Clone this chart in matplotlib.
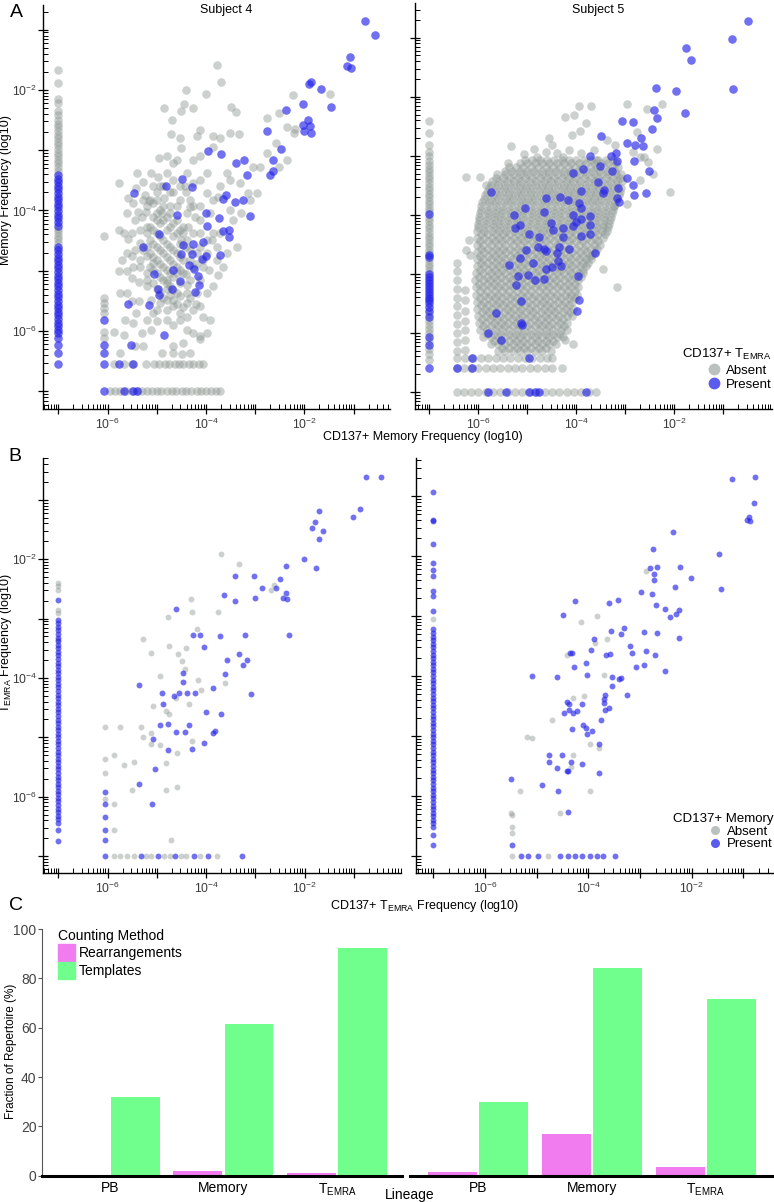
import numpy as np
import matplotlib
matplotlib.use('Agg')
import matplotlib.pyplot as plt
from matplotlib import font_manager
from matplotlib.lines import Line2D
from matplotlib.patches import Patch
from matplotlib.ticker import FixedLocator, FuncFormatter, LogLocator, NullFormatter

# fonts
names = set(f.name for f in font_manager.fontManager.ttflist)
font_main = 'Liberation Sans' if 'Liberation Sans' in names else 'DejaVu Sans'
font_narrow = 'Liberation Sans Narrow' if 'Liberation Sans Narrow' in names else font_main
plt.rcParams['font.family'] = font_main
plt.rcParams['mathtext.default'] = 'regular'

# ---------------------------------------------------------------
# data: all frequencies as log10 values, -7 = clone not detected
# ---------------------------------------------------------------
ZERO = -7.0

# panel A, subject 4 (x: CD137+ memory, y: memory), colour = seen in CD137+ TEMRA
a4_absent = [
    (-3.78, -1.59), (-3.70, -1.86), (-4.41, -2.00), (-4.01, -2.07), (-2.23, -2.08), (-1.49, -2.07),
    (-4.85, -2.30), (-4.44, -2.24), (-4.27, -2.30), (-4.50, -2.35), (-3.49, -2.28), (-3.39, -2.36),
    (-2.51, -2.39), (-2.76, -2.47), (-2.36, -2.61), (-2.19, -2.64), (-2.21, -2.72), (-4.70, -2.50),
    (-4.72, -2.73), (-4.12, -2.66), (-4.53, -2.80), (-4.19, -2.77), (-3.85, -2.77), (-3.72, -2.80),
    (-3.51, -2.71), (-3.34, -2.73), (-3.85, -2.94), (-4.12, -3.10), (-4.50, -2.97), (-4.95, -3.13),
    (-4.79, -3.10), (-4.67, -3.22), (-5.11, -3.38), (-4.97, -3.44), (-5.40, -3.38), (-5.28, -3.52),
    (-5.07, -3.60), (-5.78, -3.55), (-5.59, -3.80), (-5.42, -3.63), (-5.24, -3.74), (-5.17, -3.85),
    (-4.86, -3.80), (-4.67, -3.69), (-4.43, -3.60), (-4.33, -3.82), (-3.99, -3.71), (-3.75, -3.77),
    (-3.51, -3.49), (-3.31, -3.55), (-3.04, -3.27), (-2.90, -3.27), (-3.14, -3.71), (-2.97, -3.71),
    (-2.77, -3.05), (-2.57, -2.88), (-2.36, -3.16), (-2.51, -3.27), (-3.51, -3.99), (-3.45, -4.15),
    (-3.29, -4.04), (-3.11, -3.82), (-5.38, -4.02), (-5.23, -4.02), (-5.61, -4.04), (-5.78, -4.32),
    (-5.67, -4.38), (-6.07, -4.43), (-5.59, -4.48), (-5.44, -4.15), (-5.34, -4.32), (-5.21, -4.27),
    (-4.90, -4.04), (-5.00, -4.15), (-4.73, -3.93), (-4.53, -3.82), (-4.39, -4.04), (-4.26, -3.93),
    (-4.12, -4.15), (-3.92, -4.04), (-3.85, -4.38), (-3.78, -4.60), (-3.89, -4.49), (-4.12, -4.38),
    (-3.38, -4.60), (-5.34, -4.54), (-5.51, -4.76), (-5.21, -4.76), (-5.07, -4.87), (-5.34, -4.93),
    (-5.61, -5.01), (-5.78, -5.01), (-5.51, -5.12), (-5.36, -5.18), (-5.21, -5.26), (-5.75, -5.37),
    (-5.61, -5.37), (-5.51, -5.51), (-5.36, -5.51), (-5.11, -5.48), (-5.00, -5.65), (-4.80, -5.65),
    (-4.67, -5.48), (-4.53, -5.42), (-4.39, -5.54), (-4.26, -5.65), (-4.12, -5.59), (-3.99, -5.37),
    (-3.85, -5.26), (-3.75, -5.07), (-3.95, -4.98), (-4.39, -5.23), (-4.80, -5.15), (-5.42, -5.70),
    (-5.64, -5.81), (-5.48, -5.87), (-5.21, -5.81), (-5.00, -5.84), (-4.80, -5.81), (-4.67, -5.90),
    (-4.53, -5.81), (-4.39, -5.98), (-4.26, -6.03), (-4.12, -6.09), (-3.99, -6.03), (-5.11, -5.98),
    (-5.31, -6.03), (-5.88, -6.01), (-5.67, -6.06), (-5.44, -6.25), (-5.28, -6.25), (-4.67, -6.25),
    (-4.46, -6.20), (-4.33, -6.36), (-4.12, -6.14), (-5.75, -6.36), (-4.89, -6.36), (-4.67, -6.36),
    (-4.48, -6.38),
    (-5.14, -3.82), (-5.00, -3.82), (-4.87, -3.93), (-4.73, -4.04), (-4.60, -4.15), (-4.46, -4.27),
    (-5.00, -4.04), (-4.87, -4.15), (-4.73, -4.27), (-4.60, -4.38), (-5.14, -4.27), (-5.00, -4.38),
    (-4.87, -4.49), (-4.73, -4.60), (-4.60, -4.71), (-5.14, -4.49), (-5.00, -4.60), (-4.87, -4.71),
    (-4.73, -4.82), (-4.46, -4.82), (-4.33, -4.82), (-5.14, -4.71), (-5.00, -4.82), (-4.87, -4.93),
    (-4.73, -5.04), (-4.60, -5.04), (-4.46, -5.04), (-5.14, -4.93), (-5.00, -5.04), (-4.87, -5.15),
    (-4.73, -5.26), (-4.60, -5.37), (-5.21, -5.04), (-5.07, -5.20), (-4.94, -5.37), (-4.80, -5.48),
    (-4.67, -5.59), (-4.53, -5.70), (-4.39, -5.76), (-4.94, -5.54), (-5.07, -5.70), (-4.80, -5.31),
    (-4.12, -5.15), (-4.06, -4.93), (-4.19, -4.71), (-4.26, -4.38), (-4.39, -4.49), (-4.12, -4.60),
    (-3.99, -4.49), (-3.99, -4.71), (-4.50, -4.49), (-4.36, -4.27), (-4.22, -4.10), (-4.12, -3.93),
    (-4.53, -3.60), (-4.67, -3.49), (-4.80, -3.38), (-4.94, -3.60), (-5.21, -3.93), (-5.28, -3.82),
    (-5.31, -4.10), (-5.48, -3.88), (-5.51, -4.38), (-5.44, -4.65), (-5.48, -4.93), (-5.61, -4.71),
    (-5.71, -4.82), (-5.21, -4.60), (-4.60, -4.93), (-4.33, -5.15), (-4.19, -5.37), (-4.39, -5.37),
    (-4.06, -5.76), (-3.92, -5.81), (-3.78, -4.82), (-3.65, -4.93), (-3.58, -4.71), (-3.72, -4.38),
    (-3.85, -3.82), (-3.72, -3.60), (-3.58, -3.38), (-3.99, -3.38), (-4.12, -3.49), (-4.26, -3.55),
    (-4.39, -3.38), (-4.26, -3.16), (-4.60, -3.16),
    (-5.07, -3.88), (-4.94, -3.99), (-4.80, -4.10), (-4.67, -4.21), (-4.53, -4.32), (-5.07, -4.10),
    (-4.94, -4.21), (-4.80, -4.32), (-4.67, -4.43), (-4.53, -4.55), (-5.07, -4.32), (-4.94, -4.43),
    (-4.80, -4.55), (-4.67, -4.66), (-4.53, -4.77), (-5.07, -4.55), (-4.94, -4.66), (-4.80, -4.77),
    (-4.67, -4.88), (-4.53, -4.99), (-5.07, -4.77), (-4.94, -4.88), (-4.80, -4.99), (-4.67, -5.10),
    (-4.53, -5.21), (-5.07, -4.99), (-4.94, -5.10), (-4.80, -5.21), (-4.67, -5.32), (-4.40, -4.60),
    (-4.27, -4.93), (-4.40, -5.05), (-4.47, -4.38), (-4.33, -4.66), (-4.20, -4.88), (-4.07, -4.82),
    (-5.21, -4.38), (-5.28, -4.65), (-5.35, -4.82), (-5.21, -5.15), (-5.00, -5.30), (-4.87, -5.45),
    (-4.74, -5.40), (-4.60, -5.55), (-4.47, -5.60), (-4.33, -5.45), (-4.20, -5.55), (-4.60, -3.93),
    (-4.73, -3.70), (-4.87, -3.60), (-5.00, -3.70), (-4.40, -3.70), (-4.33, -3.95),
    (-6.07, -5.45), (-6.07, -5.54), (-6.07, -5.62), (-6.07, -5.70), (-6.07, -6.01), (-6.07, -6.12),
]
a4_absent_row65 = [-5.88, -5.67, -5.50, -5.22, -5.06, -4.95, -4.84, -4.76, -4.64, -4.55, -4.46, -4.34,
                   -4.26, -4.15, -4.06]
a4_absent_floor = [-5.95, -5.86, -5.74, -5.62, -5.51, -5.39, -5.30, -5.21, -5.10, -5.00, -4.91, -4.79,
                   -4.70, -4.61, -4.49, -4.40, -4.31, -4.19, -4.10, -4.00, -3.91, -3.80, -3.72]
a4_absent_zero = [-1.67, -1.88, -2.15, -2.22, -2.35, -2.42, -2.50, -2.56, -2.62, -2.68, -2.74, -2.80,
                  -2.86, -2.92, -2.98, -3.04, -3.10, -3.16, -3.22, -3.28, -3.34, -4.30, -4.36, -4.42,
                  -4.48, -4.54]
a4_present = [
    (-5.46, -3.71), (-4.48, -3.48), (-4.82, -3.60), (-4.28, -3.61), (-3.96, -3.01), (-3.70, -3.07),
    (-3.39, -3.22), (-3.22, -3.16), (-3.17, -3.41), (-2.77, -2.68), (-2.38, -2.34), (-2.04, -2.24),
    (-2.48, -2.98), (-2.63, -3.16), (-2.71, -3.41), (-2.65, -3.34), (-1.92, -2.49), (-2.04, -2.58),
    (-1.89, -2.60), (-2.01, -2.68), (-1.87, -2.72), (-1.87, -1.86), (-1.90, -1.90), (-1.66, -1.98),
    (-1.46, -2.28), (-1.07, -1.45), (-1.14, -1.60), (-1.05, -1.63), (-0.77, -0.86), (-0.57, -1.09),
    (-3.59, -3.75), (-3.66, -3.81), (-3.41, -3.86), (-3.26, -3.83), (-3.11, -4.09), (-3.74, -4.12),
    (-3.65, -4.34), (-3.53, -4.32), (-3.53, -4.44), (-3.99, -4.25), (-4.00, -4.04), (-4.60, -4.07),
    (-4.96, -4.39), (-5.29, -4.61), (-4.46, -4.58), (-4.27, -4.55), (-4.07, -4.52), (-4.51, -4.73),
    (-4.28, -4.72), (-4.08, -4.80), (-4.00, -4.76), (-3.72, -4.74), (-4.34, -4.91), (-4.24, -4.97),
    (-4.16, -5.08), (-4.68, -4.98), (-5.05, -5.06), (-4.53, -5.17), (-4.14, -5.24), (-4.97, -5.31),
    (-4.96, -5.40), (-4.69, -5.31), (-4.22, -5.36), (-5.16, -5.56), (-5.59, -5.55), (-4.85, -6.06),
    (-5.53, -6.24), (-6.07, -5.81), (-6.07, -6.23), (-6.07, -6.36), (-6.07, -6.54), (-5.78, -6.54),
    (-5.48, -6.54),
]
a4_present_floor = [-6.07, -5.67, -5.48, -5.41]
a4_present_zero = [-3.41, -3.47, -3.53, -3.59, -3.65, -3.71, -3.77, -3.83, -3.89, -3.95, -4.01, -4.07,
                   -4.13, -4.19, -4.25, -4.60, -4.66, -4.72, -4.78, -4.84, -4.90, -4.96, -5.02, -5.08,
                   -5.14, -5.20, -5.26, -5.32, -5.38, -5.44, -5.50, -5.56, -5.62, -5.68, -5.74, -5.80,
                   -5.86, -5.92, -5.98, -6.03, -6.12, -6.23, -6.36, -6.54]

# panel A, subject 5: dense cloud read row by row (memory level, CD137+ memory levels)
a5_absent_rows_y = [-3.07, -3.13, -3.19, -3.25, -3.31, -3.37, -3.43, -3.49, -3.55, -3.61, -3.67, -3.73,
                    -3.79, -3.85, -3.91, -3.97, -4.03, -4.09, -4.15, -4.21, -4.27, -4.33, -4.39, -4.45,
                    -4.51, -4.57, -4.63, -4.69, -4.75, -4.81, -4.87, -4.93, -4.99, -5.05, -5.11, -5.17,
                    -5.23, -5.29, -5.35, -5.41, -5.47, -5.53, -5.59, -5.65, -5.71, -5.77, -5.83, -5.89,
                    -5.95, -6.01, -6.07, -6.13, -6.19, -6.25, -6.30]
a5_absent_rows_x = [
    [-5.05, -4.90, -4.75, -4.60, -4.45, -4.30, -4.15, -4.00, -3.85, -3.70, -3.55, -3.40, -3.25],
    [-5.15, -5.00, -4.85, -4.70, -4.55, -4.40, -4.25, -4.10, -3.95, -3.80, -3.65, -3.50, -3.35, -3.20],
    [-5.38, -5.23, -5.08, -4.93, -4.78, -4.63, -4.48, -4.33, -4.18, -4.03, -3.88, -3.73, -3.58, -3.43, -3.28, -3.15],
    [-5.46, -5.31, -5.16, -5.01, -4.86, -4.71, -4.56, -4.41, -4.26, -4.11, -3.96, -3.81, -3.66, -3.51, -3.36, -3.21],
    [-5.62, -5.45, -5.30, -5.15, -5.00, -4.85, -4.70, -4.55, -4.40, -4.25, -4.10, -3.95, -3.80, -3.65, -3.50, -3.35, -3.20, -3.10],
    [-5.65, -5.50, -5.35, -5.20, -5.05, -4.90, -4.75, -4.60, -4.45, -4.30, -4.15, -4.00, -3.85, -3.70, -3.55, -3.40, -3.25, -3.12],
    [-5.72, -5.57, -5.42, -5.27, -5.12, -4.97, -4.82, -4.67, -4.52, -4.37, -4.22, -4.07, -3.92, -3.77, -3.62, -3.47, -3.32, -3.17, -3.06],
    [-5.75, -5.60, -5.45, -5.30, -5.15, -5.00, -4.85, -4.70, -4.55, -4.40, -4.25, -4.10, -3.95, -3.80, -3.65, -3.50, -3.35, -3.20],
    [-5.78, -5.63, -5.48, -5.33, -5.18, -5.03, -4.88, -4.73, -4.58, -4.43, -4.28, -4.13, -3.98, -3.83, -3.68, -3.53, -3.38, -3.23, -3.08],
    [-5.82, -5.67, -5.52, -5.37, -5.22, -5.07, -4.92, -4.77, -4.62, -4.47, -4.32, -4.17, -4.02, -3.87, -3.72, -3.57, -3.42, -3.27, -3.12],
    [-5.86, -5.70, -5.55, -5.40, -5.25, -5.10, -4.95, -4.80, -4.65, -4.50, -4.35, -4.20, -4.05, -3.90, -3.75, -3.60, -3.45, -3.30, -3.14],
    [-5.89, -5.74, -5.59, -5.44, -5.29, -5.14, -4.99, -4.84, -4.69, -4.54, -4.39, -4.24, -4.09, -3.94, -3.79, -3.64, -3.49, -3.34, -3.18],
    [-5.92, -5.78, -5.63, -5.48, -5.33, -5.18, -5.03, -4.88, -4.73, -4.58, -4.43, -4.28, -4.13, -3.98, -3.83, -3.68, -3.53, -3.38, -3.22],
    [-5.94, -5.79, -5.64, -5.49, -5.34, -5.19, -5.04, -4.89, -4.74, -4.59, -4.44, -4.29, -4.14, -3.99, -3.84, -3.69, -3.54, -3.39, -3.24],
    [-5.95, -5.80, -5.65, -5.50, -5.35, -5.20, -5.05, -4.90, -4.75, -4.60, -4.45, -4.30, -4.15, -4.00, -3.85, -3.70, -3.55, -3.40, -3.26],
    [-5.96, -5.81, -5.66, -5.51, -5.36, -5.21, -5.06, -4.91, -4.76, -4.61, -4.46, -4.31, -4.16, -4.01, -3.86, -3.71, -3.56, -3.41, -3.28],
    [-5.98, -5.83, -5.68, -5.53, -5.38, -5.23, -5.08, -4.93, -4.78, -4.63, -4.48, -4.33, -4.18, -4.03, -3.88, -3.73, -3.58, -3.43, -3.30],
    [-5.99, -5.84, -5.69, -5.54, -5.39, -5.24, -5.09, -4.94, -4.79, -4.64, -4.49, -4.34, -4.19, -4.04, -3.89, -3.74, -3.59, -3.44, -3.32],
    [-6.00, -5.85, -5.70, -5.55, -5.40, -5.25, -5.10, -4.95, -4.80, -4.65, -4.50, -4.35, -4.20, -4.05, -3.90, -3.75, -3.60, -3.45, -3.34],
    [-6.01, -5.86, -5.71, -5.56, -5.41, -5.26, -5.11, -4.96, -4.81, -4.66, -4.51, -4.36, -4.21, -4.06, -3.91, -3.76, -3.61, -3.46, -3.36],
    [-6.02, -5.88, -5.73, -5.58, -5.43, -5.28, -5.13, -4.98, -4.83, -4.68, -4.53, -4.38, -4.23, -4.08, -3.93, -3.78, -3.63, -3.48, -3.38],
    [-5.95, -5.80, -5.65, -5.50, -5.35, -5.20, -5.05, -4.90, -4.75, -4.60, -4.45, -4.30, -4.15, -4.00, -3.85, -3.70, -3.55, -3.42],
    [-6.03, -5.88, -5.73, -5.58, -5.43, -5.28, -5.13, -4.98, -4.83, -4.68, -4.53, -4.38, -4.23, -4.08, -3.93, -3.78, -3.63, -3.45],
    [-5.96, -5.81, -5.66, -5.51, -5.36, -5.21, -5.06, -4.91, -4.76, -4.61, -4.46, -4.31, -4.16, -4.01, -3.86, -3.71, -3.56],
    [-6.03, -5.90, -5.75, -5.60, -5.45, -5.30, -5.15, -5.00, -4.85, -4.70, -4.55, -4.40, -4.25, -4.10, -3.95, -3.80, -3.65, -3.52],
    [-5.95, -5.80, -5.65, -5.50, -5.35, -5.20, -5.05, -4.90, -4.75, -4.60, -4.45, -4.30, -4.15, -4.00, -3.85, -3.70, -3.58],
    [-6.03, -5.88, -5.73, -5.58, -5.43, -5.28, -5.13, -4.98, -4.83, -4.68, -4.53, -4.38, -4.23, -4.08, -3.93, -3.78, -3.62],
    [-5.96, -5.81, -5.66, -5.51, -5.36, -5.21, -5.06, -4.91, -4.76, -4.61, -4.46, -4.31, -4.16, -4.01, -3.86, -3.72],
    [-6.03, -5.90, -5.75, -5.60, -5.45, -5.30, -5.15, -5.00, -4.85, -4.70, -4.55, -4.40, -4.25, -4.10, -3.95, -3.80, -3.70],
    [-5.95, -5.80, -5.65, -5.50, -5.35, -5.20, -5.05, -4.90, -4.75, -4.60, -4.45, -4.30, -4.15, -4.00, -3.86, -3.76],
    [-6.03, -5.88, -5.73, -5.58, -5.43, -5.28, -5.13, -4.98, -4.83, -4.68, -4.53, -4.38, -4.23, -4.08, -3.93, -3.80],
    [-5.96, -5.81, -5.66, -5.51, -5.36, -5.21, -5.06, -4.91, -4.76, -4.61, -4.46, -4.31, -4.16, -4.01, -3.86],
    [-6.05, -5.90, -5.75, -5.60, -5.45, -5.30, -5.15, -5.00, -4.85, -4.70, -4.55, -4.40, -4.25, -4.10, -3.95, -3.86],
    [-5.98, -5.83, -5.68, -5.53, -5.38, -5.23, -5.08, -4.93, -4.78, -4.63, -4.48, -4.33, -4.18, -4.03, -3.90],
    [-6.06, -5.91, -5.76, -5.61, -5.46, -5.31, -5.16, -5.01, -4.86, -4.71, -4.56, -4.41, -4.26, -4.11, -3.96],
    [-5.98, -5.83, -5.68, -5.53, -5.38, -5.23, -5.08, -4.93, -4.78, -4.63, -4.48, -4.33, -4.18, -4.03],
    [-6.05, -5.90, -5.75, -5.60, -5.45, -5.30, -5.15, -5.00, -4.85, -4.70, -4.55, -4.40, -4.25, -4.10, -3.97],
    [-5.97, -5.82, -5.67, -5.52, -5.37, -5.22, -5.07, -4.92, -4.77, -4.62, -4.47, -4.32, -4.17, -4.03],
    [-6.04, -5.89, -5.74, -5.59, -5.44, -5.29, -5.14, -4.99, -4.84, -4.69, -4.54, -4.39, -4.24, -4.10, -3.99],
    [-5.96, -5.81, -5.66, -5.51, -5.36, -5.21, -5.06, -4.91, -4.76, -4.61, -4.46, -4.31, -4.16, -4.03],
    [-6.03, -5.88, -5.73, -5.58, -5.43, -5.28, -5.13, -4.98, -4.83, -4.68, -4.53, -4.38, -4.23, -4.08],
    [-5.95, -5.80, -5.65, -5.50, -5.35, -5.20, -5.05, -4.90, -4.75, -4.60, -4.45, -4.30, -4.15],
    [-6.02, -5.87, -5.72, -5.57, -5.42, -5.27, -5.12, -4.97, -4.82, -4.67, -4.52, -4.37, -4.22, -4.07],
    [-5.93, -5.78, -5.63, -5.48, -5.33, -5.18, -5.03, -4.88, -4.73, -4.58, -4.43, -4.28, -4.14],
    [-6.00, -5.85, -5.70, -5.55, -5.40, -5.25, -5.10, -4.95, -4.80, -4.65, -4.50, -4.35, -4.20, -4.08],
    [-5.92, -5.77, -5.62, -5.47, -5.32, -5.17, -5.02, -4.87, -4.72, -4.57, -4.42, -4.27],
    [-5.99, -5.84, -5.69, -5.54, -5.39, -5.24, -5.09, -4.94, -4.79, -4.64, -4.49, -4.34, -4.20],
    [-5.90, -5.75, -5.60, -5.45, -5.30, -5.15, -5.00, -4.85, -4.70, -4.55, -4.40, -4.26],
    [-5.97, -5.82, -5.67, -5.52, -5.37, -5.22, -5.07, -4.92, -4.77, -4.62, -4.47, -4.32, -4.20],
    [-5.83, -5.68, -5.53, -5.38, -5.23, -5.08, -4.93, -4.78, -4.63, -4.48, -4.34],
    [-5.90, -5.75, -5.60, -5.45, -5.30, -5.15, -5.00, -4.85, -4.70, -4.55, -4.40, -4.27],
    [-5.68, -5.53, -5.38, -5.23, -5.08, -4.93, -4.78, -4.63, -4.48],
    [-5.75, -5.60, -5.45, -5.30, -5.15, -5.00, -4.85, -4.70, -4.55, -4.42],
    [-5.52, -5.37, -5.22, -5.07, -4.92, -4.77, -4.62],
    [-5.60, -5.45, -5.30, -5.15, -5.00, -4.85, -4.70, -4.52],
]
a5_absent = [
    (-6.25, -3.36), (-5.97, -3.36), (-5.84, -3.50), (-5.40, -3.13), (-5.34, -2.84), (-5.07, -2.97),
    (-4.86, -2.88), (-4.81, -3.02), (-4.49, -2.81), (-4.23, -2.34), (-4.08, -2.64), (-4.04, -2.31),
    (-3.93, -2.58), (-3.71, -2.16), (-3.94, -2.16), (-2.97, -2.13), (-2.55, -2.20), (-2.26, -2.12),
    (-2.35, -2.89), (-2.70, -3.02), (-2.09, -3.61), (-3.46, -4.91), (-3.18, -5.22), (-3.69, -4.68),
    (-4.06, -6.18), (-4.23, -6.12), (-3.38, -2.73), (-3.21, -2.82), (-2.77, -2.59), (-2.63, -3.02),
    (-3.59, -3.07), (-4.27, -3.02), (-4.61, -2.93), (-6.17, -4.68), (-6.20, -4.43), (-6.25, -4.60),
    (-3.24, -3.85), (-2.97, -3.81), (-2.70, -3.41), (-2.43, -3.30), (-2.53, -3.10), (-2.84, -2.93),
    (-4.40, -2.95), (-4.15, -2.90), (-3.90, -2.95), (-3.65, -2.90), (-4.55, -2.70), (-3.80, -2.45),
    (-6.44, -4.82), (-6.44, -4.95), (-6.44, -5.10), (-6.44, -5.25), (-6.44, -5.40), (-6.44, -5.55),
    (-6.44, -5.70), (-6.44, -5.85), (-6.44, -6.00), (-6.44, -6.15), (-6.44, -6.30),
    (-6.27, -5.28), (-6.27, -5.45), (-6.27, -5.62), (-6.27, -5.80), (-6.27, -5.95), (-6.27, -6.12),
    (-6.27, -6.29),
]
a5_absent_row66 = [-6.44, -6.30, -6.15, -6.00, -5.85, -5.70, -5.55, -5.40, -5.25, -5.10, -4.95, -4.80,
                   -4.65, -4.50, -4.30]
a5_absent_row64 = [-6.44, -6.27, -6.10, -5.95, -5.80, -5.65, -5.50, -5.35, -5.20, -5.05, -4.90, -4.75,
                   -4.60, -4.50]
a5_absent_floor = [-6.44, -6.30, -6.15, -6.00, -5.85, -5.70, -5.55, -5.40, -5.25, -5.10, -4.95, -4.80,
                   -4.65, -4.50, -4.35, -4.20, -4.05, -3.90, -3.75, -3.59]
a5_absent_zero = [-2.41, -2.62, -2.82, -2.93, -3.01, -3.08, -3.16, -3.22, -3.28, -3.34, -3.40, -3.46,
                  -3.52, -3.58, -3.64, -3.70, -3.76, -3.82, -3.88, -3.94, -4.05, -4.11, -4.17, -4.23,
                  -4.29, -4.35, -4.41, -4.47, -4.53, -4.59, -4.65, -4.77, -4.83, -4.89, -4.95, -5.68,
                  -5.80, -5.87, -5.94, -6.00, -6.14, -6.28, -6.36, -6.46]
a5_present = [
    (-0.50, -0.72), (-0.83, -1.02), (-0.80, -1.86), (-1.77, -1.18), (-1.66, -1.38), (-2.37, -1.85),
    (-1.97, -1.90), (-1.78, -2.27), (-2.41, -2.23), (-2.36, -2.36), (-3.06, -2.41), (-2.85, -2.42),
    (-2.46, -2.55), (-2.69, -2.69), (-3.50, -2.67), (-2.96, -2.79), (-2.80, -2.81), (-2.65, -2.83),
    (-3.73, -3.01), (-3.29, -3.01), (-3.19, -2.95), (-2.82, -3.09), (-3.18, -3.08), (-4.06, -3.29),
    (-3.86, -3.23), (-3.52, -3.18), (-3.28, -3.26), (-2.96, -3.37), (-2.51, -3.26), (-3.55, -3.44),
    (-3.16, -3.54), (-2.84, -3.49), (-3.46, -3.63), (-3.43, -3.58), (-3.18, -3.72), (-3.14, -3.78),
    (-2.82, -3.66), (-2.58, -3.63), (-5.74, -3.61), (-4.63, -3.71), (-4.33, -3.69), (-4.18, -3.74),
    (-3.90, -3.60), (-3.94, -3.80), (-4.07, -4.01), (-3.91, -3.89), (-3.73, -4.02), (-4.66, -3.95),
    (-5.05, -3.88), (-5.27, -4.01), (-5.25, -4.23), (-5.15, -4.18), (-4.96, -4.33), (-4.76, -4.38),
    (-4.52, -4.14), (-4.48, -4.25), (-4.27, -4.23), (-4.01, -4.12), (-4.06, -4.19), (-3.90, -4.07),
    (-3.72, -4.18), (-4.28, -4.38), (-4.35, -4.55), (-4.78, -4.54), (-4.67, -4.58), (-4.62, -4.61),
    (-5.03, -4.59), (-5.16, -4.73), (-4.39, -4.64), (-4.15, -4.57), (-3.91, -4.36), (-3.72, -4.32),
    (-3.63, -4.64), (-5.38, -4.85), (-4.88, -4.81), (-4.63, -4.92), (-4.49, -4.88), (-4.37, -4.78),
    (-4.31, -4.86), (-3.97, -5.04), (-5.20, -5.03), (-4.98, -5.02), (-4.84, -5.10), (-4.67, -5.09),
    (-5.24, -5.18), (-5.14, -5.46), (-3.95, -5.45), (-3.99, -5.62), (-5.63, -5.66), (-5.12, -5.83),
    (-5.10, -5.87), (-5.80, -6.00), (-5.54, -6.12), (-6.12, -6.42), (-4.96, -6.42), (-6.44, -6.60),
    (-6.13, -6.60),
]
a5_present_floor = [-5.81, -5.44, -4.96, -4.84, -4.76, -3.80]
a5_present_zero = [-3.99, -4.68, -4.71, -5.00, -5.05, -5.10, -5.15, -5.20, -5.25, -5.30, -5.35, -5.40,
                   -5.45, -5.50, -5.56, -5.62, -5.73, -6.07, -6.21, -6.60]

# panel B, subject 4 (x: CD137+ TEMRA, y: TEMRA), colour = seen in CD137+ memory
b4_absent = [
    (-3.70, -1.91), (-3.34, -2.08), (-4.31, -2.67), (-4.29, -2.89), (-3.76, -2.89), (-4.78, -2.98),
    (-4.19, -3.17), (-5.28, -3.34), (-5.11, -3.58), (-4.75, -3.46), (-4.41, -3.50), (-4.58, -3.60),
    (-4.50, -3.71), (-4.43, -3.85), (-4.94, -3.96), (-4.16, -4.03), (-3.62, -4.08), (-4.10, -4.21),
    (-4.35, -4.43), (-4.62, -4.33), (-4.75, -4.61), (-4.82, -4.56), (-5.07, -4.47), (-6.05, -4.83),
    (-5.76, -4.83), (-5.32, -4.82), (-5.13, -4.92), (-5.28, -5.00), (-5.11, -5.12), (-4.94, -5.13),
    (-4.60, -5.27), (-4.29, -5.06), (-4.82, -5.44), (-5.46, -5.41), (-5.66, -5.47), (-5.88, -5.29),
    (-6.05, -5.37), (-6.05, -5.60), (-6.05, -6.04), (-5.88, -6.13), (-5.51, -5.89), (-4.81, -5.89),
    (-4.60, -5.83), (-2.63, -2.44), (-2.69, -2.51), (-5.87, -6.56), (-4.71, -6.73),
]
b4_absent_floor = [-5.88, -5.74, -5.61, -5.47, -5.22, -5.12, -4.86, -4.74, -4.52, -4.41, -4.12, -3.78]
b4_absent_zero = [-2.40, -2.45, -2.52, -2.85, -2.91, -3.36]
b4_present = [
    (-0.76, -0.61), (-0.44, -0.61), (-0.88, -1.16), (-1.02, -1.29), (-1.70, -1.18), (-1.79, -1.37),
    (-1.85, -1.48), (-1.63, -1.53), (-1.70, -1.66), (-2.01, -1.99), (-1.77, -2.15), (-2.38, -2.11),
    (-2.50, -2.34), (-2.57, -2.49), (-2.38, -2.57), (-2.44, -2.66), (-2.36, -2.67), (-3.03, -2.28),
    (-3.42, -2.28), (-2.87, -2.48), (-3.64, -2.61), (-3.00, -2.66), (-3.41, -2.71), (-4.62, -2.84),
    (-4.26, -3.28), (-4.12, -3.28), (-4.04, -3.48), (-3.72, -3.30), (-3.21, -3.28), (-2.31, -3.28),
    (-3.58, -3.69), (-3.34, -3.60), (-3.26, -3.78), (-3.16, -3.70), (-4.47, -3.91), (-3.61, -3.94),
    (-3.85, -4.17), (-4.46, -4.07), (-4.90, -4.25), (-4.65, -4.30), (-4.55, -4.26), (-4.39, -4.25),
    (-4.22, -4.26), (-4.88, -4.44), (-4.01, -4.58), (-3.70, -4.60), (-5.36, -4.12), (-4.93, -4.80),
    (-4.78, -4.77), (-4.35, -4.79), (-4.62, -4.91), (-4.43, -4.91), (-4.05, -5.10), (-3.85, -4.92),
    (-3.82, -4.90), (-5.07, -5.03), (-4.28, -5.19), (-4.78, -5.22), (-5.04, -5.54), (-5.36, -5.78),
    (-6.05, -5.92), (-6.05, -6.13), (-5.09, -6.13), (-6.05, -6.34), (-3.09, -4.27), (-6.05, -6.56),
    (-6.05, -6.73),
]
b4_present_floor = [-6.06, -5.33, -4.98, -4.63, -4.25, -3.97, -3.27]
b4_present_zero = [-2.69, -3.02, -3.08, -3.14, -3.20, -3.26, -3.32, -3.38, -3.44, -3.50, -3.56, -3.62,
                   -3.68, -3.74, -3.80, -3.86, -3.92, -3.98, -4.04, -4.10, -4.16, -4.22, -4.28, -4.34,
                   -4.40, -4.46, -4.52, -4.58, -4.64, -4.70, -4.76, -4.82, -4.88, -4.94, -5.00, -5.06,
                   -5.12, -5.18, -5.24, -5.30, -5.36, -5.42, -5.48, -5.54, -5.60, -5.66, -5.72, -5.78,
                   -5.84, -5.90, -5.96, -6.02, -6.08, -6.14, -6.20, -6.26, -6.32, -6.38, -6.45, -6.56,
                   -6.74]

# panel B, subject 5
b5_absent = [
    (-2.89, -2.24), (-4.15, -3.09), (-3.83, -3.00), (-3.87, -3.45), (-3.64, -3.38), (-4.41, -3.64),
    (-3.69, -3.99), (-4.29, -4.37), (-4.09, -4.33), (-4.71, -4.73), (-5.19, -5.02), (-5.09, -5.04),
    (-3.97, -5.13), (-3.79, -5.20), (-4.30, -5.32), (-4.34, -5.51), (-5.32, -5.91), (-3.97, -5.91),
    (-5.49, -6.28), (-4.54, -6.28), (-5.48, -6.31), (-5.48, -6.52), (-5.48, -6.62),
]
b5_absent_floor = [-5.48, -4.78]
b5_absent_zero = [-3.05]
b5_present = [
    (-1.22, -0.72), (-0.77, -0.68), (-0.80, -1.12), (-0.94, -1.39), (-0.89, -1.34), (-0.87, -1.42),
    (-2.36, -1.59), (-2.76, -1.88), (-1.47, -1.96), (-1.44, -2.54), (-2.80, -2.19), (-2.68, -2.18),
    (-2.74, -2.30), (-2.74, -2.40), (-2.23, -2.18), (-2.02, -2.37), (-2.98, -2.60), (-2.77, -2.63),
    (-2.32, -2.51), (-4.25, -2.75), (-3.60, -2.78), (-3.43, -2.73), (-2.69, -2.82), (-2.51, -2.88),
    (-2.24, -2.89), (-2.42, -3.01), (-2.31, -2.97), (-4.50, -2.98), (-3.57, -3.24), (-3.32, -3.19),
    (-3.36, -3.29), (-2.92, -3.27), (-2.68, -3.28), (-2.25, -3.36), (-3.90, -3.38), (-3.20, -3.49),
    (-3.16, -3.61), (-2.89, -3.58), (-3.95, -3.57), (-4.36, -3.61), (-4.31, -3.61), (-3.66, -3.65),
    (-3.58, -3.63), (-2.71, -3.64), (-4.05, -3.79), (-4.27, -3.85), (-3.07, -3.85), (-2.92, -3.82),
    (-2.51, -3.92), (-5.09, -4.00), (-4.61, -4.02), (-4.03, -3.98), (-3.55, -4.02), (-3.40, -4.05),
    (-3.37, -4.03), (-3.54, -4.17), (-3.25, -4.31), (-3.68, -4.31), (-3.69, -4.38), (-4.41, -4.43),
    (-4.37, -4.46), (-4.13, -4.47), (-3.70, -4.45), (-3.61, -4.53), (-3.67, -4.56), (-4.48, -4.61),
    (-4.37, -4.57), (-4.29, -4.61), (-4.23, -4.59), (-3.76, -4.74), (-4.32, -4.89), (-4.10, -4.81),
    (-4.05, -4.87), (-4.03, -4.96), (-3.94, -4.91), (-3.80, -5.13), (-4.76, -5.32), (-4.52, -5.31),
    (-4.76, -5.43), (-4.34, -5.44), (-4.12, -5.47), (-4.61, -5.53), (-4.41, -5.58), (-4.39, -5.58),
    (-3.79, -5.61), (-5.49, -5.72), (-4.89, -5.82), (-4.59, -5.91), (-4.39, -6.27), (-5.48, -6.82),
]
b5_present_floor = [-5.30, -5.16, -4.98, -4.55, -4.39, -4.26, -4.12, -3.97, -3.83, -3.72, -3.49]
b5_present_zero = [-0.93, -1.39, -1.42, -1.79, -2.12, -2.23, -2.33, -2.58, -2.67, -2.91, -3.22, -3.28,
                   -3.34, -3.40, -3.46, -3.52, -3.58, -3.64, -3.70, -3.76, -3.82, -3.88, -3.94, -4.00,
                   -4.06, -4.12, -4.18, -4.24, -4.30, -4.36, -4.42, -4.48, -4.54, -4.60, -4.66, -4.72,
                   -4.78, -4.84, -4.90, -4.96, -5.02, -5.08, -5.14, -5.20, -5.26, -5.32, -5.38, -5.44,
                   -5.50, -5.56, -5.62, -5.68, -5.74, -5.80, -5.86, -5.92, -5.98, -6.04, -6.10, -6.16,
                   -6.22, -6.28, -6.34, -6.40, -6.45, -6.52, -6.65, -6.82]

# panel C
lineages = ['PB', 'Memory', '$\\mathregular{T_{EMRA}}$']
s4_rearrangements = [0.0, 2.0, 1.1]
s4_templates = [32.0, 61.5, 92.3]
s5_rearrangements = [1.6, 17.0, 3.6]
s5_templates = [30.0, 84.2, 71.6]

# style
GRAY = '#8E9994'
BLUE = '#2424E8'
PINK = '#F07CF0'
GREEN = '#70FF8C'


def gather(pairs, row_y=None, row_x=(), col_x=None, col_y=()):
    pts = list(pairs)
    pts += [(x, row_y) for x in row_x]
    pts += [(col_x, y) for y in col_y]
    a = np.array(pts, dtype=float)
    return 10.0 ** a[:, 0], 10.0 ** a[:, 1]


def dec_label(v, pos):
    e = int(round(np.log10(v)))
    if e in (-6, -4, -2):
        return '$\\mathregular{10^{%d}}$' % e
    return ''


def log_axes(ax, xlim, ylim, ylabels):
    ax.set_xscale('log')
    ax.set_yscale('log')
    ax.set_xlim(10.0 ** xlim[0], 10.0 ** xlim[1])
    ax.set_ylim(10.0 ** ylim[0], 10.0 ** ylim[1])
    ax.spines['top'].set_visible(False)
    ax.spines['right'].set_visible(False)
    for sp in ('left', 'bottom'):
        ax.spines[sp].set_linewidth(1.0)
    decades = [10.0 ** k for k in range(-8, 1)]
    for axis in (ax.xaxis, ax.yaxis):
        axis.set_major_locator(FixedLocator(decades))
        axis.set_minor_locator(LogLocator(base=10, subs=np.arange(2, 10), numticks=30))
        axis.set_major_formatter(FuncFormatter(dec_label))
        axis.set_minor_formatter(NullFormatter())
    ax.tick_params(which='major', direction='inout', length=7, width=0.9,
                   labelsize=8.7, labelcolor='#3a3a3a', pad=2)
    ax.tick_params(which='minor', direction='in', length=3.5, width=0.7)
    ax.tick_params(axis='y', pad=0.5)
    if not ylabels:
        ax.tick_params(axis='y', labelleft=False)
    for t in ax.get_xticklabels() + ax.get_yticklabels():
        t.set_fontfamily(font_narrow)


def scatter_panel(ax, absent, present, size):
    ax.scatter(*absent, s=size, color=GRAY, alpha=0.45, linewidths=0, zorder=2)
    ax.scatter(*present, s=size, color=BLUE, alpha=0.65, linewidths=0, zorder=3)


def legend_panel(ax, title, ms, anchor_y, spacing):
    handles = [Line2D([], [], ls='', marker='o', ms=ms, mfc=GRAY, mec='none', alpha=0.6, label='Absent'),
               Line2D([], [], ls='', marker='o', ms=ms, mfc=BLUE, mec='none', alpha=0.75, label='Present')]
    ax.legend(handles=handles, title=title, loc='lower right', bbox_to_anchor=(1.0, anchor_y),
              frameon=False, fontsize=9.5, title_fontsize=9.5, alignment='right',
              handletextpad=0.4, labelspacing=spacing, borderpad=0, borderaxespad=0,
              handlelength=1.0)


fig = plt.figure(figsize=(7.74, 12.02), dpi=100)

axA4 = fig.add_axes([0.05517, 0.65973, 0.44871, 0.33611])
axA5 = fig.add_axes([0.53618, 0.65973, 0.46124, 0.33777])
axB4 = fig.add_axes([0.05517, 0.27346, 0.46292, 0.34526])
axB5 = fig.add_axes([0.53747, 0.27346, 0.46124, 0.34526])
axC4 = fig.add_axes([0.05426, 0.02188, 0.46512, 0.20524])
axC5 = fig.add_axes([0.52972, 0.02188, 0.47028, 0.20524])

# panel A
a5_rows = [(x, y) for y, xs in zip(a5_absent_rows_y, a5_absent_rows_x) for x in xs]
a4_abs = gather(a4_absent + [(x, -6.54) for x in a4_absent_row65], ZERO, a4_absent_floor, ZERO, a4_absent_zero)
a4_pre = gather(a4_present, ZERO, a4_present_floor, ZERO, a4_present_zero)
a5_abs = gather(a5_absent + a5_rows + [(x, -6.60) for x in a5_absent_row66]
                + [(x, -6.42) for x in a5_absent_row64], ZERO, a5_absent_floor, ZERO, a5_absent_zero)
a5_pre = gather(a5_present, ZERO, a5_present_floor, ZERO, a5_present_zero)
scatter_panel(axA4, a4_abs, a4_pre, 38)
scatter_panel(axA5, a5_abs, a5_pre, 38)
log_axes(axA4, (-7.321, -0.262), (-7.294, -0.590), True)
log_axes(axA5, (-7.292, -0.010), (-7.288, -0.412), False)
legend_panel(axA5, 'CD137+ $\\mathregular{T_{EMRA}}$', 8.5, 0.045, 0.15)

# panel B
b4_abs = gather(b4_absent, ZERO, b4_absent_floor, ZERO, b4_absent_zero)
b4_pre = gather(b4_present, ZERO, b4_present_floor, ZERO, b4_present_zero)
b5_abs = gather(b5_absent, ZERO, b5_absent_floor, ZERO, b5_absent_zero)
b5_pre = gather(b5_present, ZERO, b5_present_floor, ZERO, b5_present_zero)
scatter_panel(axB4, b4_abs, b4_pre, 18)
scatter_panel(axB5, b5_abs, b5_pre, 18)
log_axes(axB4, (-7.321, -0.039), (-7.29, -0.30), True)
log_axes(axB5, (-7.335, -0.429), (-7.29, -0.367), False)
legend_panel(axB5, 'CD137+ Memory', 6.5, 0.055, 0.05)

# panel C
x = np.arange(len(lineages))
for ax, rea, tem, xlim in ((axC4, s4_rearrangements, s4_templates, (-0.595, 2.57)),
                           (axC5, s5_rearrangements, s5_templates, (-0.60, 2.60))):
    ax.bar(x - 0.225, rea, width=0.43, color=PINK, label='Rearrangements')
    ax.bar(x + 0.225, tem, width=0.43, color=GREEN, label='Templates')
    ax.set_xlim(*xlim)
    ax.set_ylim(0, 100)
    ax.set_xticks(x, lineages)
    ax.spines['top'].set_visible(False)
    ax.spines['right'].set_visible(False)
    ax.spines['bottom'].set_linewidth(2.2)
    ax.tick_params(axis='x', length=0, pad=4, labelsize=10)
    for t in ax.get_xticklabels():
        t.set_fontfamily(font_narrow)

axC4.spines['left'].set_linewidth(0.8)
axC4.spines['left'].set_color('#555555')
axC4.set_yticks([0, 20, 40, 60, 80, 100])
axC4.tick_params(axis='y', direction='out', length=3, width=0.8, color='#555555',
                 labelsize=10, labelcolor='#444444', pad=1)
for t in axC4.get_yticklabels():
    t.set_fontfamily(font_narrow)
axC5.spines['left'].set_visible(False)
axC5.tick_params(axis='y', left=False, labelleft=False)
axC4.legend(handles=[Patch(color=PINK, label='Rearrangements'), Patch(color=GREEN, label='Templates')],
            title='Counting Method', loc='upper left', bbox_to_anchor=(0.045, 1.0), frameon=False,
            alignment='left', borderpad=0, borderaxespad=0, handlelength=1.2, handleheight=1.45,
            handletextpad=0.3, labelspacing=0.1, prop={'family': font_narrow, 'size': 10},
            title_fontproperties={'family': font_narrow, 'size': 10})

# labels and panel letters
fig.text(0.013, 0.990, 'A', fontsize=14, ha='left', va='center')
fig.text(0.0103, 0.620, 'B', fontsize=14, ha='left', va='center')
fig.text(0.0116, 0.247, 'C', fontsize=14, ha='left', va='center')
fig.text(0.292, 0.992, 'Subject 4', fontsize=9, ha='center', va='center')
fig.text(0.773, 0.992, 'Subject 5', fontsize=9, ha='center', va='center')
fig.text(0.0078, 0.842, 'Memory Frequency (log10)', fontsize=9, rotation=90, ha='center', va='center')
fig.text(0.546, 0.6364, 'CD137+ Memory Frequency (log10)', fontsize=9, ha='center', va='center')
fig.text(0.0072, 0.465, '$\\mathregular{T_{EMRA}}$ Frequency (log10)', fontsize=9, rotation=90,
         ha='center', va='center')
fig.text(0.548, 0.2463, 'CD137+ $\\mathregular{T_{EMRA}}$ Frequency (log10)', fontsize=9,
         ha='center', va='center')
fig.text(0.0142, 0.1257, 'Fraction of Repertoire (%)', fontsize=8.5, rotation=90, ha='center', va='center')
fig.text(0.5297, 0.0055, 'Lineage', fontsize=10, ha='center', va='center', family=font_narrow)

fig.savefig('out.png', dpi=100)
